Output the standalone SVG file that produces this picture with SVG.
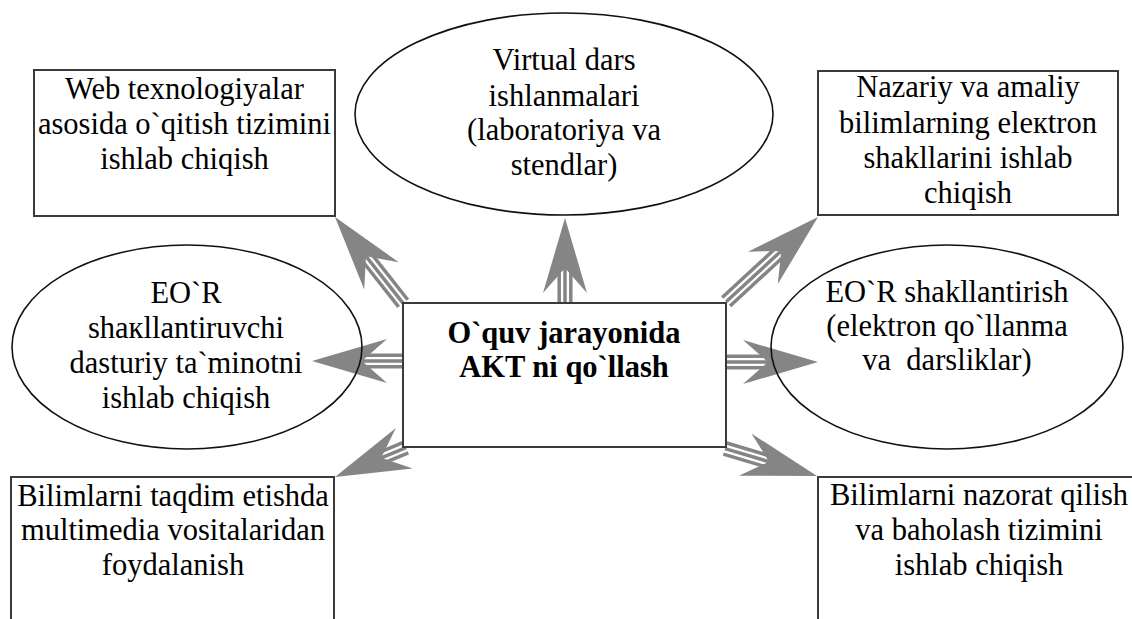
<svg xmlns="http://www.w3.org/2000/svg" xmlns:xlink="http://www.w3.org/1999/xlink" width="1132" height="619" viewBox="0 0 1132 619">
<style>
.box{fill:#fff;stroke:#3a3a3a;stroke-width:2}
.ell{fill:none;stroke:#111;stroke-width:1.6}
.t{font-family:"Liberation Serif","Times New Roman",serif;font-size:30.5px;fill:#000;text-anchor:middle}
.b{font-weight:bold}
.shaft{stroke:#858585;stroke-width:3.5;fill:none}
.head{fill:#858585}
</style>
<defs>
<path id="head" class="head" d="M0,0 L-75,-22 L-50,0 L-75,22 Z"/>
</defs>
<rect width="1132" height="619" fill="#fff"/>
<g id="connectors">
<g transform="translate(335,217) rotate(231.7)">
<path class="shaft" d="M-110,-5.8H-48M-110,0H-48M-110,5.8H-48"/><use xlink:href="#head"/>
</g>
<g transform="translate(565,218) rotate(-90)">
<path class="shaft" d="M-85,-5.8H-48M-85,0H-48M-85,5.8H-48"/><use xlink:href="#head"/>
</g>
<g transform="translate(818,217) rotate(-42.7)">
<path class="shaft" d="M-125,-5.8H-48M-125,0H-48M-125,5.8H-48"/><use xlink:href="#head"/>
</g>
<g transform="translate(312,361) rotate(180)">
<path class="shaft" d="M-91,-5.8H-48M-91,0H-48M-91,5.8H-48"/><use xlink:href="#head"/>
</g>
<g transform="translate(335,477) rotate(157.5)">
<path class="shaft" d="M-77,-5.8H-48M-77,0H-48M-77,5.8H-48"/><use xlink:href="#head"/>
</g>
<g transform="translate(818,362) rotate(0)">
<path class="shaft" d="M-92,-5.8H-48M-92,0H-48M-92,5.8H-48"/><use xlink:href="#head"/>
</g>
<g transform="translate(817,476) rotate(16.6)">
<path class="shaft" d="M-96,-5.8H-48M-96,0H-48M-96,5.8H-48"/><use xlink:href="#head"/>
</g>
</g>
<g id="center">
<rect class="box" x="403" y="303" width="323" height="144"/>
<text class="t b" x="564" y="343">O`quv jarayonida</text>
<text class="t b" x="564" y="377">AKT ni qo`llash</text>
</g>
<g id="web">
<rect class="box" x="34" y="70" width="301" height="146"/>
<text class="t" x="184.5" y="99">Web texnologiyalar</text>
<text class="t" x="184.5" y="134">asosida o`qitish tizimini</text>
<text class="t" x="184.5" y="169">ishlab chiqish</text>
</g>
<g id="virtual">
<ellipse class="ell" cx="564" cy="114" rx="209" ry="101"/>
<text class="t" x="564" y="70">Virtual dars</text>
<text class="t" x="564" y="106">ishlanmalari</text>
<text class="t" x="564" y="140">(laboratoriya va</text>
<text class="t" x="564" y="175">stendlar)</text>
</g>
<g id="nazariy">
<rect class="box" x="818" y="71" width="300" height="144"/>
<text class="t" x="968" y="97">Nazariy va amaliy</text>
<text class="t" x="968" y="133">bilimlarning eleкtron</text>
<text class="t" x="968" y="168">shakllarini ishlab</text>
<text class="t" x="968" y="203">chiqish</text>
</g>
<g id="eor-dastur">
<ellipse class="ell" cx="187" cy="347" rx="175" ry="102"/>
<text class="t" x="186" y="303">EO`R</text>
<text class="t" x="186" y="338">shaкllantiruvchi</text>
<text class="t" x="186" y="373">dasturiy ta`minotni</text>
<text class="t" x="186" y="408">ishlab chiqish</text>
</g>
<g id="eor-shakl">
<ellipse class="ell" cx="947" cy="347" rx="176" ry="102"/>
<text class="t" x="947" y="302">EO`R shakllantirish</text>
<text class="t" x="947" y="336">(elektron qo`llanma</text>
<text class="t" x="947" y="370" xml:space="preserve">va  darsliklar)</text>
</g>
<g id="multimedia">
<rect class="box" x="11" y="477" width="323" height="160"/>
<text class="t" x="173" y="506">Bilimlarni taqdim etishda</text>
<text class="t" x="173" y="540">multimedia vositalaridan</text>
<text class="t" x="173" y="575">foydalanish</text>
</g>
<g id="nazorat">
<rect class="box" x="818" y="477" width="322" height="160"/>
<text class="t" x="979" y="505">Bilimlarni nazorat qilish</text>
<text class="t" x="979" y="540">va baholash tizimini</text>
<text class="t" x="979" y="575">ishlab chiqish</text>
</g>
</svg>
